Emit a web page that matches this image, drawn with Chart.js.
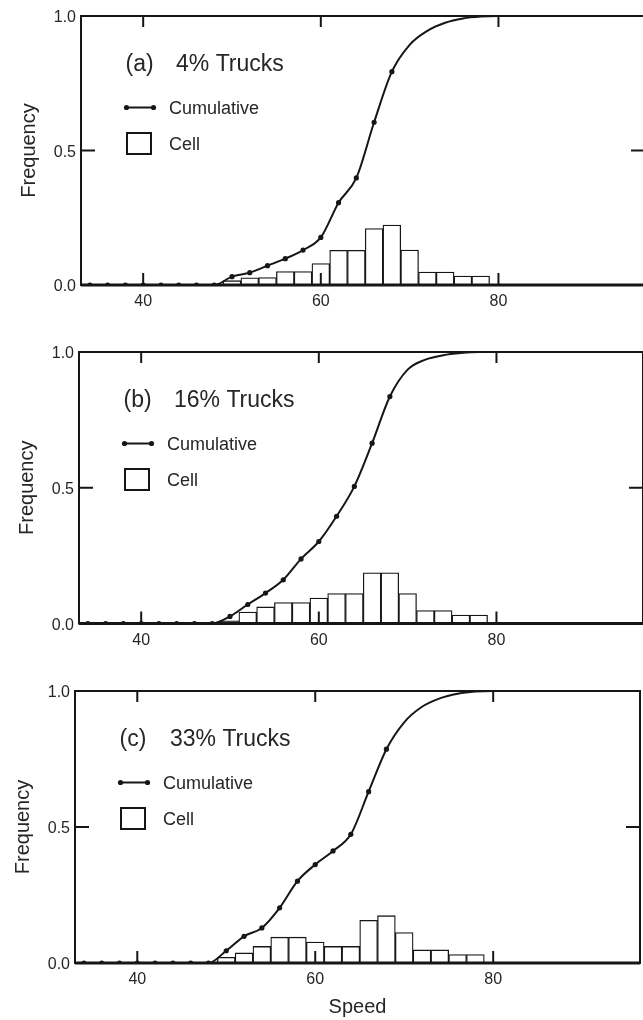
<!DOCTYPE html>
<html>
<head>
<meta charset="utf-8">
<script src="https://cdn.jsdelivr.net/npm/chart.js@4"></script>
<style>
  html, body { margin: 0; padding: 0; overflow: hidden; background: #fff; }
  canvas { position: absolute; left: 0; }
</style>
</head>
<body>
<canvas id="chartA"></canvas>
<canvas id="chartB"></canvas>
<canvas id="chartC"></canvas>
<script>
// speeds where the cumulative curve is sampled
const cumSpeeds = [34, 36, 38, 40, 42, 44, 46, 48, 50, 52, 54, 56, 58, 60, 62, 64, 66, 68, 70, 72, 74, 76, 78, 80, 96.5];
// centres of the 2-unit speed cells
const cellSpeeds = [50, 52, 54, 56, 58, 60, 62, 64, 66, 68, 70, 72, 74, 76, 78];

const cumA = [0, 0, 0, 0, 0, 0, 0, 0, 0.031, 0.046, 0.072, 0.098, 0.13, 0.177, 0.306, 0.398, 0.605, 0.793, 0.893, 0.945, 0.975, 0.991, 0.998, 1, 1];
const cellA = [0.016, 0.027, 0.028, 0.05, 0.05, 0.08, 0.129, 0.129, 0.21, 0.223, 0.13, 0.048, 0.048, 0.033, 0.033];

const cumB = [0, 0, 0, 0, 0, 0, 0, 0, 0.026, 0.07, 0.112, 0.161, 0.238, 0.302, 0.395, 0.505, 0.664, 0.836, 0.935, 0.972, 0.988, 0.996, 1, 1, 1];
const cellB = [0.01, 0.042, 0.061, 0.077, 0.077, 0.094, 0.11, 0.11, 0.187, 0.187, 0.11, 0.048, 0.048, 0.031, 0.031];

const cumC = [0, 0, 0, 0, 0, 0, 0, 0, 0.045, 0.098, 0.129, 0.203, 0.301, 0.362, 0.412, 0.473, 0.63, 0.786, 0.885, 0.942, 0.973, 0.99, 0.998, 1, 1];
const cellC = [0.021, 0.037, 0.061, 0.095, 0.095, 0.077, 0.061, 0.061, 0.157, 0.174, 0.112, 0.048, 0.048, 0.031, 0.031];

const xTicks = [40, 60, 80];
const yTicks = [0, 0.5, 1];
const lastMarkedSpeed = 68;

const ink = '#161616';
const textInk = '#262626';
const family = '"Liberation Sans", Arial, Helvetica, sans-serif';

const panels = [
  { id: 'chartA', tag: '(a)', share: '4% Trucks', cum: cumA, cell: cellA,
    top: 0, height: 318, padTop: 16, padRight: 15, axisWidth: 81, xHeight: 33, titlePad: 17, speedTitle: false },
  { id: 'chartB', tag: '(b)', share: '16% Trucks', cum: cumB, cell: cellB,
    top: 330, height: 326, padTop: 22, padRight: 17, axisWidth: 79, xHeight: 32.5, titlePad: 15, speedTitle: false },
  { id: 'chartC', tag: '(c)', share: '33% Trucks', cum: cumC, cell: cellC,
    top: 670, height: 350, padTop: 21, padRight: 20, axisWidth: 75, xHeight: 57, titlePad: 11, speedTitle: true }
];

function line(ctx, x1, y1, x2, y2) {
  ctx.beginPath();
  ctx.moveTo(x1, y1);
  ctx.lineTo(x2, y2);
  ctx.stroke();
}

// box, inward ticks, panel tag and the little key
const framePlugin = {
  id: 'frame',
  afterDraw(chart, args, opts) {
    const { ctx, chartArea: a, scales: { x, y } } = chart;
    ctx.save();
    ctx.strokeStyle = ink;
    ctx.lineWidth = 2;
    ctx.strokeRect(a.left, a.top, a.right - a.left, a.bottom - a.top);
    ctx.lineWidth = 3;
    line(ctx, a.left, a.bottom, a.right, a.bottom);

    ctx.lineWidth = 2;
    xTicks.forEach(v => {
      const px = x.getPixelForValue(v);
      line(ctx, px, a.top, px, a.top + 11);
      line(ctx, px, a.bottom, px, a.bottom - 12);
    });
    const mid = y.getPixelForValue(0.5);
    line(ctx, a.left, mid, a.left + 14, mid);
    line(ctx, a.right, mid, a.right - 14, mid);

    ctx.fillStyle = textInk;
    ctx.textAlign = 'left';
    ctx.textBaseline = 'alphabetic';
    ctx.font = '23px ' + family;
    ctx.fillText(opts.tag, a.left + 44.5, a.top + 55);
    ctx.fillText(opts.share, a.left + 95, a.top + 55);

    // key: cumulative
    ctx.lineWidth = 2;
    line(ctx, a.left + 45, a.top + 91.5, a.left + 73, a.top + 91.5);
    ctx.fillStyle = ink;
    [a.left + 45.5, a.left + 72.5].forEach(cx => {
      ctx.beginPath();
      ctx.arc(cx, a.top + 91.5, 2.6, 0, Math.PI * 2);
      ctx.fill();
    });
    // key: cell
    ctx.strokeRect(a.left + 46, a.top + 117, 24, 21);

    ctx.fillStyle = textInk;
    ctx.font = '18px ' + family;
    ctx.fillText('Cumulative', a.left + 88, a.top + 97.5);
    ctx.fillText('Cell', a.left + 88, a.top + 133.5);
    ctx.restore();
  }
};

panels.forEach(p => {
  const canvas = document.getElementById(p.id);
  canvas.width = 660;
  canvas.height = p.height;
  canvas.style.top = p.top + 'px';

  new Chart(canvas, {
    type: 'bar',
    data: {
      datasets: [{
        type: 'line',
        label: 'Cumulative',
        data: cumSpeeds.map((s, i) => ({ x: s, y: p.cum[i] })),
        borderColor: ink,
        borderWidth: 2,
        cubicInterpolationMode: 'monotone',
        pointRadius: c => cumSpeeds[c.dataIndex] <= lastMarkedSpeed ? 2.6 : 0,
        pointBackgroundColor: ink,
        pointBorderWidth: 0,
        order: 0
      }, {
        type: 'bar',
        label: 'Cell',
        data: cellSpeeds.map((s, i) => ({ x: s, y: p.cell[i] })),
        backgroundColor: '#ffffff',
        borderColor: ink,
        borderWidth: 1.3,
        categoryPercentage: 1,
        barPercentage: 1,
        order: 1
      }]
    },
    options: {
      responsive: false,
      animation: false,
      events: [],
      layout: { padding: { top: p.padTop, right: p.padRight, left: 0, bottom: 0 } },
      plugins: {
        legend: { display: false },
        tooltip: { enabled: false },
        frame: { tag: p.tag, share: p.share }
      },
      scales: {
        x: {
          type: 'linear',
          min: 33,
          max: 96.5,
          offset: false,
          grid: { display: false, drawTicks: false },
          border: { display: false },
          afterBuildTicks: s => { s.ticks = xTicks.map(v => ({ value: v })); },
          afterFit: s => { s.height = p.xHeight; },
          ticks: {
            padding: 7,
            color: textInk,
            font: { family: family, size: 16 },
            maxRotation: 0
          },
          title: {
            display: p.speedTitle,
            text: 'Speed',
            color: textInk,
            font: { family: family, size: 20 },
            padding: { top: 0, bottom: 1 }
          }
        },
        y: {
          min: 0,
          max: 1,
          grid: { display: false, drawTicks: false },
          border: { display: false },
          afterBuildTicks: s => { s.ticks = yTicks.map(v => ({ value: v })); },
          afterFit: s => { s.width = p.axisWidth; },
          ticks: {
            padding: 5,
            labelOffset: 2,
            color: textInk,
            font: { family: family, size: 16 },
            callback: v => Number(v).toFixed(1)
          },
          title: {
            display: true,
            text: 'Frequency',
            color: textInk,
            font: { family: family, size: 20 },
            padding: { top: p.titlePad, bottom: 0 }
          }
        }
      }
    },
    plugins: [framePlugin]
  });
});
</script>
</body>
</html>
